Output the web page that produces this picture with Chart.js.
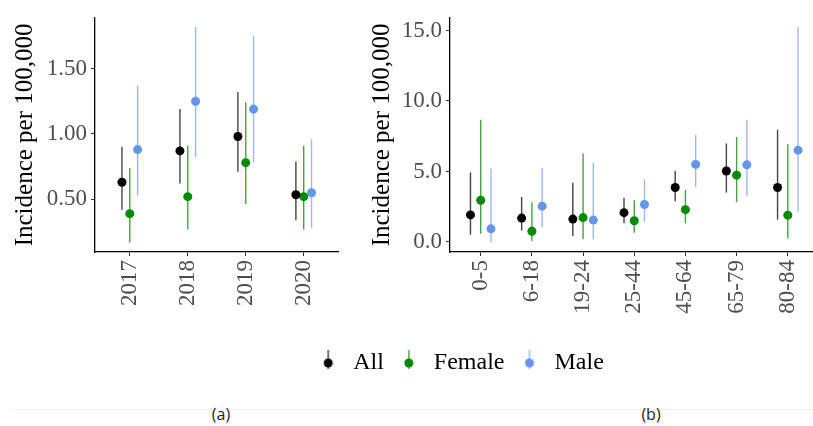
<!DOCTYPE html>
<html>
<head>
<meta charset="utf-8">
<script src="https://cdn.jsdelivr.net/npm/chart.js@4.4.1/dist/chart.umd.min.js"></script>
<style>
  html, body { margin: 0; padding: 0; background: #ffffff; width: 813px; height: 426px; overflow: hidden; position: relative; }
  .box { position: absolute; }
  #sep { position: absolute; left: 10px; top: 409px; width: 803px; height: 0; border-top: 1px solid #f0f0f0; }
  .cap { position: absolute; top: 403px; font-family: "Open Sans", "Noto Sans", sans-serif; font-size: 16px; color: #222; width: 40px; text-align: center; }
</style>
</head>
<body>
<div class="box" style="left:0;top:0;width:343px;height:330px;"><canvas id="cA" width="343" height="330"></canvas></div>
<div class="box" style="left:342px;top:0;width:481px;height:330px;"><canvas id="cB" width="481" height="330"></canvas></div>
<div class="box" style="left:118px;top:339px;width:683px;height:60px;"><canvas id="cL" width="683" height="60"></canvas></div>
<div id="sep"></div>
<div class="cap" style="left:201px;">(a)</div>
<div class="cap" style="left:631px;">(b)</div>
<script>
// ---------------- data ----------------
const seriesNames = ['All', 'Female', 'Male'];

const catsA = ['2017', '2018', '2019', '2020'];
const allA    = [0.63, 0.87, 0.98, 0.535];
const allALo  = [0.42, 0.62, 0.71, 0.34];
const allAHi  = [0.90, 1.19, 1.32, 0.79];
const femA    = [0.39, 0.52, 0.78, 0.52];
const femALo  = [0.17, 0.27, 0.465, 0.27];
const femAHi  = [0.74, 0.91, 1.24, 0.91];
const maleA   = [0.88, 1.25, 1.19, 0.55];
const maleALo = [0.53, 0.82, 0.78, 0.28];
const maleAHi = [1.37, 1.82, 1.75, 0.96];
const ticksA  = [0.5, 1.0, 1.5];

const catsB = ['0-5', '6-18', '19-24', '25-44', '45-64', '65-79', '80-84'];
const allB    = [1.92, 1.69, 1.62, 2.08, 3.86, 5.03, 3.86];
const allBLo  = [0.51, 0.81, 0.42, 1.32, 2.89, 3.51, 1.57];
const allBHi  = [4.92, 3.19, 4.20, 3.12, 5.03, 6.99, 7.96];
const femB    = [2.96, 0.76, 1.73, 1.50, 2.29, 4.74, 1.90];
const femBLo  = [0.58, 0.07, 0.19, 0.65, 1.32, 2.82, 0.24];
const femBHi  = [8.66, 2.82, 6.28, 2.96, 3.70, 7.44, 6.93];
const maleB   = [0.93, 2.54, 1.55, 2.66, 5.50, 5.47, 6.51];
const maleBLo = [0.00, 1.04, 0.19, 1.43, 3.88, 3.28, 2.13];
const maleBHi = [5.19, 5.26, 5.61, 4.43, 7.58, 8.66, 15.24];
const ticksB  = [0, 5, 10, 15];

// ---------------- styles ----------------
const pointColors = ['#000000', '#008B00', '#6495ED'];
const lineColors  = ['#444444', '#45a245', '#9cb8f2'];
const SERIF = '"Liberation Serif", "DejaVu Serif", serif';
const tickGrey = '#4D4D4D';

function buildDatasets(cats, groups, off) {
  const ds = [];
  groups.forEach((g, s) => {
    const dx = (s - 1) * off;
    const lineData = [];
    cats.forEach((c, i) => {
      lineData.push({x: i + dx, y: g.lo[i]});
      lineData.push({x: i + dx, y: g.hi[i]});
      lineData.push({x: i + dx, y: null});
    });
    ds.push({
      label: seriesNames[s] + ' CI', data: lineData, showLine: true, spanGaps: false,
      borderColor: lineColors[s], borderWidth: 1.4, pointRadius: 0, pointHoverRadius: 0, order: 2
    });
    ds.push({
      label: seriesNames[s], data: cats.map((c, i) => ({x: i + dx, y: g.est[i]})),
      showLine: false, backgroundColor: pointColors[s], borderWidth: 0,
      pointRadius: 4.5, pointHoverRadius: 4.5, order: 1
    });
  });
  return ds;
}

function makeChart(id, cats, groups, off, yMin, yMax, yTicks, dec, yWidth, titlePad) {
  return new Chart(document.getElementById(id), {
    type: 'scatter',
    data: { datasets: buildDatasets(cats, groups, off) },
    options: {
      responsive: false, animation: false, devicePixelRatio: 1,
      layout: { padding: { top: 12, left: 0, right: 0, bottom: 0 } },
      plugins: { legend: { display: false }, tooltip: { enabled: false } },
      scales: {
        x: {
          type: 'linear', min: -0.6, max: cats.length - 1 + 0.6,
          afterBuildTicks: (sc) => { sc.ticks = cats.map((c, i) => ({value: i})); },
          afterFit: (sc) => { sc.height = 78; },
          ticks: {
            callback: (v) => cats[Math.round(v)], minRotation: 90, maxRotation: 90,
            color: tickGrey, font: { family: SERIF, size: 23 }, padding: 4, autoSkip: false
          },
          grid: { display: true, drawOnChartArea: false, drawTicks: true, tickLength: 4, color: '#333333', lineWidth: 1 },
          border: { display: true, color: '#000000', width: 1.3 }
        },
        y: {
          min: yMin, max: yMax,
          afterBuildTicks: (sc) => { sc.ticks = yTicks.map(v => ({value: v})); },
          afterFit: (sc) => { sc.width = yWidth; },
          ticks: {
            callback: (v) => Number(v).toFixed(dec),
            color: tickGrey, font: { family: SERIF, size: 23 }, padding: 4
          },
          title: {
            display: true, text: 'Incidence per 100,000', color: '#000000',
            font: { family: SERIF, size: 25 }, padding: { top: titlePad, bottom: 0 }
          },
          grid: { display: true, drawOnChartArea: false, drawTicks: true, tickLength: 4, color: '#333333', lineWidth: 1 },
          border: { display: true, color: '#000000', width: 1.3 }
        }
      }
    }
  });
}

makeChart('cA', catsA, [
  {est: allA, lo: allALo, hi: allAHi},
  {est: femA, lo: femALo, hi: femAHi},
  {est: maleA, lo: maleALo, hi: maleAHi}
], 0.135, 0.097, 1.888, ticksA, 2, 95, 10);

makeChart('cB', catsB, [
  {est: allB, lo: allBLo, hi: allBHi},
  {est: femB, lo: femBLo, hi: femBHi},
  {est: maleB, lo: maleBLo, hi: maleBHi}
], 0.2, -0.713, 15.9, ticksB, 1, 108, 25);

// ---------------- legend ----------------
function glyph(pc, lc) {
  const c = document.createElement('canvas');
  c.width = 12; c.height = 28;
  const g = c.getContext('2d');
  g.strokeStyle = lc; g.lineWidth = 1.5;
  g.beginPath(); g.moveTo(6, 1); g.lineTo(6, 27); g.stroke();
  g.fillStyle = pc;
  g.beginPath(); g.arc(6, 14, 4.5, 0, Math.PI * 2); g.fill();
  return c;
}
const glyphs = seriesNames.map((n, s) => glyph(pointColors[s], lineColors[s]));

new Chart(document.getElementById('cL'), {
  type: 'scatter',
  data: { datasets: seriesNames.map((n, s) => ({ label: n, data: [], pointStyle: glyphs[s], backgroundColor: pointColors[s] })) },
  options: {
    responsive: false, animation: false, devicePixelRatio: 1,
    layout: { padding: 0 },
    scales: { x: { display: false }, y: { display: false } },
    plugins: {
      tooltip: { enabled: false },
      legend: {
        display: true, position: 'top',
        labels: {
          usePointStyle: true, pointStyleWidth: 26, padding: 12,
          color: '#000000', font: { family: SERIF, size: 24 },
          generateLabels: (chart) => seriesNames.map((n, s) => ({
            text: n, pointStyle: glyphs[s], fillStyle: pointColors[s], strokeStyle: pointColors[s],
            lineWidth: 0, hidden: false, datasetIndex: s, fontColor: '#000000'
          }))
        }
      }
    }
  }
});
</script>
</body>
</html>
